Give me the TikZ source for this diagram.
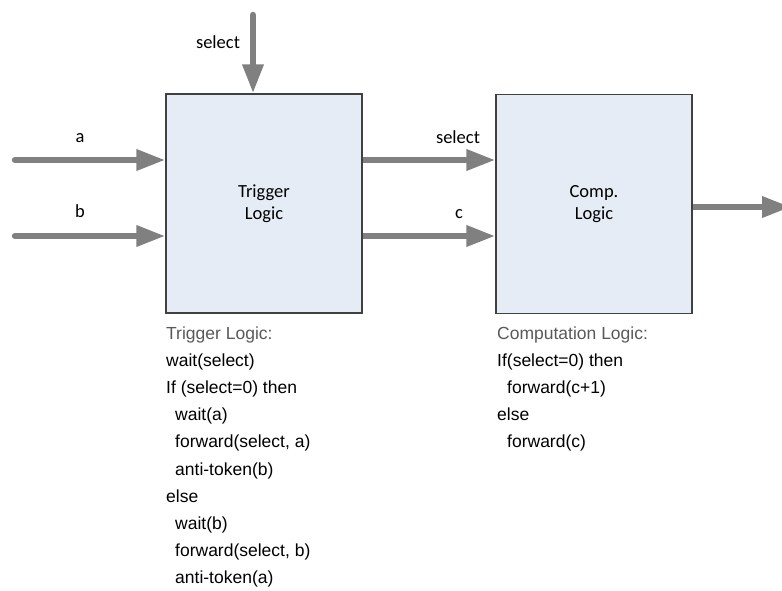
\documentclass[tikz,border=0pt]{standalone}
\usepackage{fontspec}
\setmainfont{Liberation Sans}
\newfontfamily\calibri{Carlito}
\usetikzlibrary{arrows.meta}

\definecolor{arrowgray}{RGB}{128,128,128}
\definecolor{boxfill}{RGB}{230,236,246}
\definecolor{boxline}{RGB}{64,64,64}
\definecolor{titlegray}{RGB}{89,89,89}

\tikzset{
  logicbox/.style={draw=boxline, line width=1.3pt, fill=boxfill,
    minimum width=196pt, minimum height=219pt, inner sep=0pt, align=center,
    font=\calibri\fontsize{18.5}{22}\selectfont},
  wire/.style={draw=arrowgray, line width=6.5pt, line cap=round,
    -{Triangle[length=29pt,width=20pt]}},
  siglabel/.style={anchor=base, inner sep=0pt, font=\calibri\fontsize{18.5}{22}\selectfont},
  codeline/.style={anchor=base west, inner sep=0pt, font=\fontsize{17.5}{22}\selectfont},
  codetitle/.style={codeline, text=titlegray},
}

\begin{document}
\begin{tikzpicture}[x=1pt, y=-1pt]
  \useasboundingbox (0,0) rectangle (782,590);

  % the two logic blocks
  \node[logicbox] (trig) at (264,203.5) {Trigger\\Logic};
  \node[logicbox] (comp) at (594,204) {Comp.\\Logic};

  % free ends of the input and output wires
  \coordinate (ain)  at (15,160);
  \coordinate (bin)  at (15,236);
  \coordinate (sin)  at (253,15);
  \coordinate (cout) at (791,207);

  % inputs of the trigger block
  \draw[wire] (sin) -- (sin |- trig.north);
  \draw[wire] (ain) -- (trig.west |- ain);
  \draw[wire] (bin) -- (trig.west |- bin);

  % trigger block to computation block
  \draw[wire, line cap=butt] (trig.east |- ain) -- (comp.west |- ain);
  \draw[wire, line cap=butt] (trig.east |- bin) -- (comp.west |- bin);

  % output of the computation block
  \draw[wire, line cap=butt] (comp.east |- cout) -- (cout);

  % wire labels
  \node[siglabel] (lsel)  at (218,48)  {select};
  \node[siglabel] (la)    at (80,142)  {a};
  \node[siglabel] (lb)    at (80,217)  {b};
  \node[siglabel] (lsel2) at (458,143) {select};
  \node[siglabel] (lc)    at (459,218) {c};

  % behaviour of the trigger block
  \node[codetitle] (t0) at (166,339.0) {Trigger Logic:};
  \node[codeline]  (t1) at (166,366.2) {wait(select)};
  \node[codeline]  (t2) at (166,393.4) {If (select=0) then};
  \node[codeline]  (t3) at (175,420.6) {wait(a)};
  \node[codeline]  (t4) at (175,447.8) {forward(select, a)};
  \node[codeline]  (t5) at (175,475.0) {anti-token(b)};
  \node[codeline]  (t6) at (166,502.2) {else};
  \node[codeline]  (t7) at (175,529.4) {wait(b)};
  \node[codeline]  (t8) at (175,556.6) {forward(select, b)};
  \node[codeline]  (t9) at (175,583.8) {anti-token(a)};

  % behaviour of the computation block
  \node[codetitle] (c0) at (497,339.0) {Computation Logic:};
  \node[codeline]  (c1) at (497,366.2) {If(select=0) then};
  \node[codeline]  (c2) at (507,393.4) {forward(c+1)};
  \node[codeline]  (c3) at (497,420.6) {else};
  \node[codeline]  (c4) at (507,447.8) {forward(c)};
\end{tikzpicture}
\end{document}
